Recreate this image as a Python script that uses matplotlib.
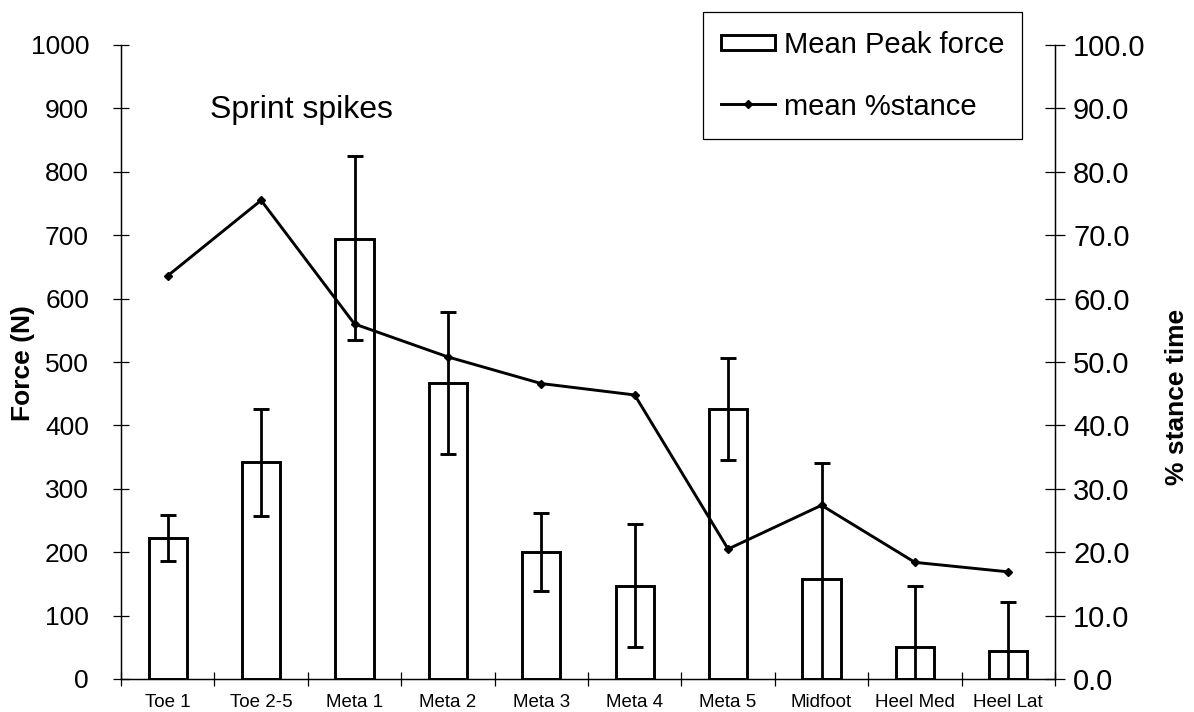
import matplotlib
matplotlib.use("Agg")
import matplotlib.pyplot as plt
from matplotlib.patches import Rectangle
from matplotlib.lines import Line2D
from matplotlib.legend_handler import HandlerPatch
from matplotlib import font_manager

# data
regions = ["Toe 1", "Toe 2-5", "Meta 1", "Meta 2", "Meta 3",
           "Meta 4", "Meta 5", "Midfoot", "Heel Med", "Heel Lat"]
peak_force = [222, 343, 694, 467, 200, 147, 426, 157, 50, 44]
force_err_low = [36, 86, 160, 112, 61, 96, 80, 157, 50, 44]
force_err_high = [37, 83, 131, 112, 62, 97, 80, 184, 96, 77]
stance_pct = [63.6, 75.5, 56.0, 50.8, 46.6, 44.8, 20.5, 27.4, 18.4, 16.9]

left_ticks = list(range(0, 1001, 100))
right_ticks = [i * 10.0 for i in range(11)]

names = {f.name for f in font_manager.fontManager.ttflist}
narrow = "Liberation Sans Narrow" if "Liberation Sans Narrow" in names else "Liberation Sans"
plt.rcParams["font.family"] = ["Liberation Sans", "DejaVu Sans"]

LW = 2.1

fig = plt.figure(figsize=(11.94, 7.12), dpi=100)
ax = fig.add_axes([121 / 1194, 33 / 712, 934 / 1194, 634 / 712])
ax2 = ax.twinx()

x = list(range(len(regions)))
ax.bar(x, peak_force, width=0.41, color="white", edgecolor="black",
       linewidth=LW, zorder=2)
ax.errorbar(x, peak_force, yerr=[force_err_low, force_err_high], fmt="none",
            ecolor="black", elinewidth=2.0, capsize=6, capthick=2.1, zorder=3)
ax2.plot(x, stance_pct, color="black", linewidth=LW, marker="D",
         markersize=4.5, zorder=4)

ax.set_xlim(-0.5, len(regions) - 0.5)
ax.set_ylim(0, 1000)
ax2.set_ylim(0, 100)

for a in (ax, ax2):
    a.spines["top"].set_visible(False)
    for s in ("left", "right", "bottom"):
        a.spines[s].set_linewidth(0.9)

ax.set_yticks(left_ticks)
ax.set_yticklabels([str(t) for t in left_ticks], fontsize=19)
ax.tick_params(axis="y", direction="inout", length=12, width=0.9, pad=17)
ax2.set_yticks(right_ticks)
ax2.set_yticklabels(["%.1f" % t for t in right_ticks], fontsize=21)
ax2.tick_params(axis="y", direction="inout", length=14, width=0.9, pad=6)

ax.set_xticks([i - 0.5 for i in range(len(regions) + 1)])
ax.set_xticklabels([])
ax.set_xticks(x, minor=True)
ax.set_xticklabels(regions, minor=True, fontsize=13.5, family=narrow)
ax.tick_params(axis="x", which="major", direction="inout", length=10, width=0.9)
ax.tick_params(axis="x", which="minor", length=0, pad=11)

fig.text(23 / 1194, 1 - 363 / 712, "Force (N)", rotation=90, fontsize=19,
         fontweight="bold", ha="center", va="center")
fig.text(1177 / 1194, 1 - 397 / 712, "% stance time", rotation=90, fontsize=19,
         fontweight="bold", ha="center", va="center")
fig.text(210 / 1194, 1 - 110 / 712, "Sprint spikes", fontsize=23,
         ha="left", va="center")


def flat_box(legend, orig_handle, xdescent, ydescent, width, height, fontsize):
    h = height * 0.75
    return Rectangle((-xdescent, -ydescent + (height - h) / 2), width, h)


handles = [Rectangle((0, 0), 1, 1, facecolor="white", edgecolor="black", linewidth=LW),
           Line2D([], [], color="black", linewidth=LW, marker="D", markersize=4.5)]
leg = fig.legend(handles, ["Mean Peak force", "mean %stance"], loc="upper left",
                 bbox_to_anchor=(703 / 1194, 1 - 12.5 / 712), fontsize=21,
                 frameon=True, fancybox=False, edgecolor="black", framealpha=1,
                 borderpad=0.62, labelspacing=1.17, handlelength=1.85,
                 handletextpad=0.3, borderaxespad=0,
                 handler_map={Rectangle: HandlerPatch(patch_func=flat_box)})
leg.get_frame().set_linewidth(0.9)

fig.savefig("out.png", dpi=100)
